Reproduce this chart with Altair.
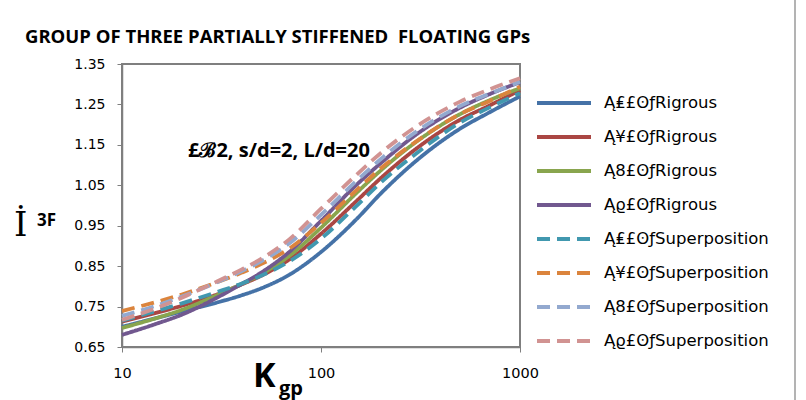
import altair as alt
import pandas as pd

# ---------------- data ----------------
kgp = [10, 15, 20, 30, 40, 50, 70, 100, 150, 200, 300, 500, 700, 1000]

series_names = [
    "Ą₤£ʘƒRigrous",
    "Ą¥£ʘƒRigrous",
    "Ą8£ʘƒRigrous",
    "Ąϱ£ʘƒRigrous",
    "Ą₤£ʘƒSuperposition",
    "Ą¥£ʘƒSuperposition",
    "Ą8£ʘƒSuperposition",
    "Ąϱ£ʘƒSuperposition",
]

blue_rig = [0.700, 0.722, 0.738, 0.760, 0.778, 0.795, 0.830, 0.885, 0.965, 1.030, 1.110, 1.190, 1.230, 1.270]
red_rig = [0.713, 0.735, 0.752, 0.780, 0.805, 0.826, 0.868, 0.930, 1.010, 1.068, 1.140, 1.212, 1.247, 1.285]
green_rig = [0.697, 0.722, 0.742, 0.778, 0.806, 0.830, 0.877, 0.945, 1.030, 1.087, 1.157, 1.226, 1.260, 1.290]
purple_rig = [0.680, 0.708, 0.730, 0.772, 0.806, 0.834, 0.887, 0.962, 1.050, 1.105, 1.175, 1.242, 1.275, 1.305]
teal_sup = [0.715, 0.740, 0.758, 0.786, 0.807, 0.826, 0.863, 0.918, 0.998, 1.057, 1.128, 1.205, 1.242, 1.278]
orange_sup = [0.739, 0.762, 0.780, 0.810, 0.834, 0.855, 0.895, 0.957, 1.037, 1.092, 1.158, 1.226, 1.258, 1.294]
lav_sup = [0.727, 0.753, 0.775, 0.810, 0.838, 0.862, 0.908, 0.977, 1.060, 1.115, 1.182, 1.246, 1.276, 1.306]
pink_sup = [0.717, 0.747, 0.772, 0.812, 0.842, 0.868, 0.918, 0.992, 1.075, 1.130, 1.195, 1.257, 1.287, 1.315]

all_values = [blue_rig, red_rig, green_rig, purple_rig, teal_sup, orange_sup, lav_sup, pink_sup]

colors = ["#4572A7", "#AA4643", "#89A54E", "#71588F", "#4198AF", "#DB843D", "#93A9CF", "#D19392"]
dashes = [[1, 0]] * 4 + [[13, 7]] * 4

y_ticks = [0.65, 0.75, 0.85, 0.95, 1.05, 1.15, 1.25, 1.35]
x_ticks = [10, 100, 1000]

title_text = ["GROUP OF THREE PARTIALLY STIFFENED\u00a0\u00a0FLOATING GPs"]
annot_text = ["£ℬ2, s/d=2, L/d=20"]
ytitle_main = ["İ"]
ytitle_sub = ["3F"]
xtitle_main = ["K"]
xtitle_sub = ["gp"]

# ---------------- build ----------------
rows = []
for name, vals in zip(series_names, all_values):
    for k, v in zip(kgp, vals):
        rows.append({"series": name, "kgp": k, "val": v})
df = pd.DataFrame(rows)

legend = alt.Legend(
    title=None, orient="none", legendX=422, legendY=19,
    symbolType="M-1.5,0H1.5", symbolSize=1296, symbolStrokeWidth=4,
    labelFont="DejaVu Sans", labelFontSize=16.5, labelColor="#000000",
    labelOffset=20, rowPadding=5, padding=0, labelLimit=300,
)

lines = alt.Chart(df).mark_line(strokeWidth=3.8, interpolate="monotone").encode(
    x=alt.X("kgp:Q", scale=alt.Scale(type="log", domain=[10, 1000], nice=False),
            axis=alt.Axis(values=x_ticks, format="d", title=None, labelFontSize=14.5,
                          labelPadding=14, labelFlush=False)),
    y=alt.Y("val:Q", scale=alt.Scale(domain=[0.65, 1.35], nice=False, zero=False),
            axis=alt.Axis(values=y_ticks, format=".2f", title=None, labelFontSize=14,
                          labelPadding=12)),
    color=alt.Color("series:N", scale=alt.Scale(domain=series_names, range=colors),
                    sort=series_names, legend=legend),
    strokeDash=alt.StrokeDash("series:N", scale=alt.Scale(domain=series_names, range=dashes),
                              sort=series_names, legend=legend),
)

def txt(text_list, x, y, size, weight="bold", font="DejaVu Sans", align="left"):
    return alt.Chart(pd.DataFrame({"t": text_list})).mark_text(
        font=font, fontSize=size, fontWeight=weight, align=align, baseline="middle",
        color="#000000",
    ).encode(text="t:N", x=alt.value(x), y=alt.value(y))

title = txt(title_text, -97, -27, 18.5, font="Open Sans")
annot = txt(annot_text, 66, 87, 20, font="Open Sans")
ymain = txt(ytitle_main, -108, 162, 34, weight="normal", font="DejaVu Serif")
ysub = txt(ytitle_sub, -85, 157, 17, font="Open Sans")
xmain = txt(xtitle_main, 131, 313, 34, font="Open Sans")
xsub = txt(xtitle_sub, 157, 325, 20, font="Open Sans")

frame = alt.Chart(pd.DataFrame({"a": [0]})).mark_rule(color="#9a9a9a", strokeWidth=1.5).encode(
    x=alt.value(673), y=alt.value(-64), y2=alt.value(336)
)

chart = alt.layer(lines, title, annot, ymain, ysub, xmain, xsub, frame).properties(
    width=398, height=283,
    autosize=alt.AutoSizeParams(type="none"),
    padding={"left": 122, "top": 64, "right": 286, "bottom": 53},
    background="white",
).configure_view(
    stroke="#7f7f7f", strokeWidth=2
).configure_axis(
    grid=False, domainColor="#7f7f7f", tickColor="#7f7f7f", tickSize=5,
    labelColor="#000000", labelFont="DejaVu Sans", domainWidth=1.5,
)

chart.save("out.html", embed_options={"renderer": "svg", "actions": False})
